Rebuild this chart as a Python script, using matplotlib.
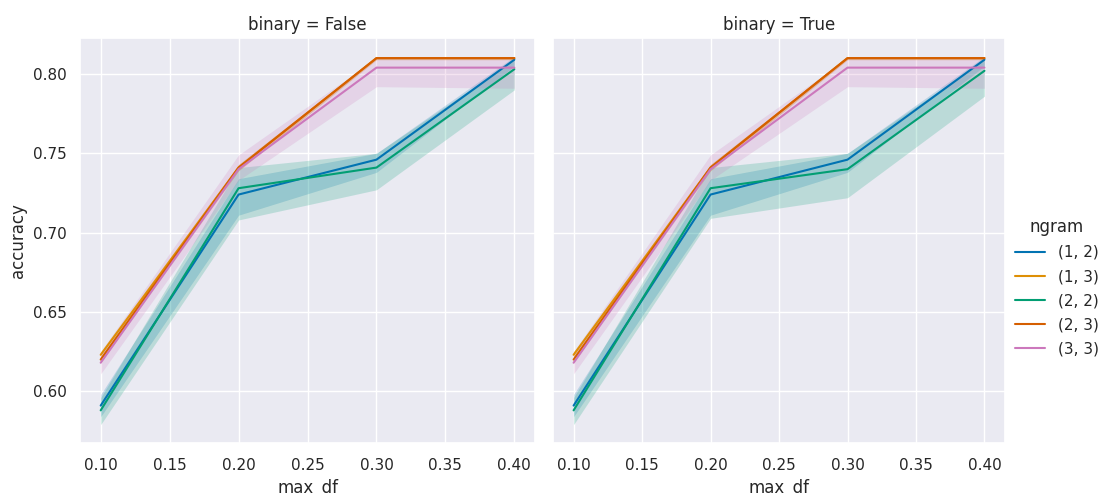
import matplotlib
matplotlib.use("Agg")
import matplotlib.pyplot as plt
import seaborn as sns

sns.set_theme(style="darkgrid")

max_df = [0.10, 0.20, 0.30, 0.40]
ngrams = ["(1, 2)", "(1, 3)", "(2, 2)", "(2, 3)", "(3, 3)"]

# mean accuracy per ngram, with lower / upper bounds of the confidence band
acc_false = {
    "(1, 2)": [0.591, 0.724, 0.746, 0.809],
    "(1, 3)": [0.623, 0.741, 0.810, 0.810],
    "(2, 2)": [0.588, 0.728, 0.741, 0.803],
    "(2, 3)": [0.620, 0.741, 0.810, 0.810],
    "(3, 3)": [0.618, 0.740, 0.804, 0.804],
}
lo_false = {
    "(1, 2)": [0.584, 0.711, 0.738, 0.805],
    "(1, 3)": [0.621, 0.739, 0.809, 0.809],
    "(2, 2)": [0.579, 0.708, 0.727, 0.790],
    "(2, 3)": [0.618, 0.739, 0.809, 0.809],
    "(3, 3)": [0.611, 0.733, 0.792, 0.791],
}
hi_false = {
    "(1, 2)": [0.598, 0.734, 0.750, 0.811],
    "(1, 3)": [0.625, 0.743, 0.811, 0.811],
    "(2, 2)": [0.596, 0.741, 0.750, 0.809],
    "(2, 3)": [0.622, 0.743, 0.811, 0.811],
    "(3, 3)": [0.625, 0.749, 0.810, 0.810],
}

acc_true = {
    "(1, 2)": [0.591, 0.724, 0.746, 0.809],
    "(1, 3)": [0.623, 0.741, 0.810, 0.810],
    "(2, 2)": [0.588, 0.728, 0.740, 0.802],
    "(2, 3)": [0.620, 0.741, 0.810, 0.810],
    "(3, 3)": [0.618, 0.740, 0.804, 0.804],
}
lo_true = {
    "(1, 2)": [0.584, 0.711, 0.738, 0.805],
    "(1, 3)": [0.621, 0.739, 0.809, 0.809],
    "(2, 2)": [0.579, 0.709, 0.722, 0.786],
    "(2, 3)": [0.618, 0.739, 0.809, 0.809],
    "(3, 3)": [0.611, 0.733, 0.792, 0.791],
}
hi_true = {
    "(1, 2)": [0.598, 0.734, 0.750, 0.811],
    "(1, 3)": [0.625, 0.743, 0.811, 0.811],
    "(2, 2)": [0.596, 0.741, 0.750, 0.809],
    "(2, 3)": [0.622, 0.743, 0.811, 0.811],
    "(3, 3)": [0.625, 0.749, 0.810, 0.810],
}

colors = sns.color_palette("colorblind", len(ngrams))

fig = plt.figure(figsize=(11.05, 4.95), dpi=100)
ax1 = fig.add_axes([0.0724, 0.105, 0.4118, 0.818])
ax2 = fig.add_axes([0.5005, 0.105, 0.409, 0.818], sharey=ax1)

panels = [
    (ax1, "binary = False", acc_false, lo_false, hi_false),
    (ax2, "binary = True", acc_true, lo_true, hi_true),
]
for ax, title, acc, lo, hi in panels:
    for ng, c in zip(ngrams, colors):
        ax.fill_between(max_df, lo[ng], hi[ng], color=c, alpha=0.2, linewidth=0)
        ax.plot(max_df, acc[ng], color=c, linewidth=1.5, label=ng)
    ax.set_title(title, fontsize=12)
    ax.set_xlabel("max_df", fontsize=12)
    ax.set_xticks([0.10, 0.15, 0.20, 0.25, 0.30, 0.35, 0.40])
    ax.set_xticklabels(["0.10", "0.15", "0.20", "0.25", "0.30", "0.35", "0.40"])
    ax.tick_params(labelsize=11)
    ax.tick_params(axis="x", pad=5)

ax1.set_ylabel("accuracy", fontsize=12)
ax1.set_yticks([0.60, 0.65, 0.70, 0.75, 0.80])
ax1.set_yticklabels(["0.60", "0.65", "0.70", "0.75", "0.80"])
plt.setp(ax2.get_yticklabels(), visible=False)

handles, labels = ax1.get_legend_handles_labels()
fig.legend(handles, labels, title="ngram", loc="center left",
           bbox_to_anchor=(0.906, 0.42), frameon=False,
           fontsize=11, title_fontsize=12, labelspacing=0.6)

fig.savefig("out.png", dpi=100)
